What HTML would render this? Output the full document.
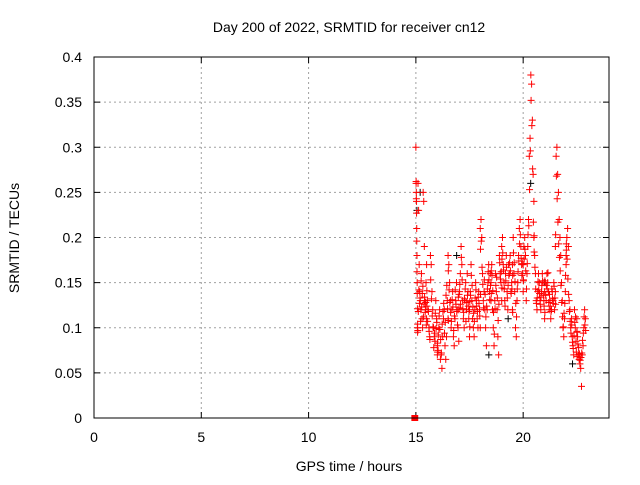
<!DOCTYPE html>
<html><head><meta charset="utf-8"><style>
body{margin:0;background:#fff}
svg text{font-family:"Liberation Sans",sans-serif;font-size:14px;fill:#000}
</style></head><body>
<svg id="chart" width="640" height="480" xmlns="http://www.w3.org/2000/svg">
<rect width="640" height="480" fill="#fff"/>
<text x="349" y="32" text-anchor="middle">Day 200 of 2022, SRMTID for receiver cn12</text>
<text x="349" y="471" text-anchor="middle">GPS time / hours</text>
<text transform="translate(19,238) rotate(-90)" text-anchor="middle">SRMTID / TECUs</text>
<g id="grid"></g><g id="marks"></g>
<rect x="94" y="57" width="515" height="361" fill="none" stroke="#000" stroke-width="1"/>
</svg>
<script>
const xTicks=[0,5,10,15,20];
const yTicks=[0,0.05,0.1,0.15,0.2,0.25,0.3,0.35,0.4];
const yTickLabels=["0","0.05","0.1","0.15","0.2","0.25","0.3","0.35","0.4"];
const segStarts=[15.0,15.1,15.5,16.0,16.5,17.0,17.5,18.0,18.5,19.0,19.5,20.0,20.5,21.0,21.5,22.0,22.5];
const segEnds=[15.08,15.5,16.0,16.5,17.0,17.5,18.0,18.5,19.0,19.5,20.0,20.5,21.0,21.5,22.0,22.5,22.9];
const segVals=[
[0.30,0.26,0.25,0.24,0.21,0.18,0.15,0.10,0.095],
[0.26,0.23,0.17,0.14,0.13,0.12,0.16,0.11,0.10,0.25,0.24,0.19,0.13,0.12,0.15,0.17],
[0.11,0.13,0.12,0.10,0.09,0.18,0.17,0.14,0.12,0.10,0.09,0.085,0.13,0.11,0.08],
[0.07,0.075,0.10,0.12,0.065,0.07,0.055,0.09,0.11,0.12,0.08,0.065,0.09,0.13,0.11],
[0.18,0.17,0.15,0.13,0.10,0.12,0.14,0.09,0.08,0.11,0.13,0.15,0.12,0.10,0.085],
[0.12,0.14,0.16,0.19,0.17,0.13,0.11,0.10,0.13,0.15,0.12,0.16,0.14,0.11,0.09],
[0.12,0.14,0.17,0.13,0.11,0.10,0.09,0.12,0.15,0.13,0.11,0.10,0.14,0.12,0.10],
[0.21,0.22,0.20,0.16,0.13,0.14,0.12,0.10,0.08,0.12,0.15,0.17,0.14,0.16,0.13],
[0.15,0.17,0.12,0.10,0.08,0.13,0.16,0.14,0.12,0.09,0.07,0.18,0.16,0.15,0.13],
[0.19,0.20,0.17,0.15,0.13,0.16,0.18,0.14,0.12,0.17,0.16,0.18,0.14,0.15,0.12],
[0.17,0.20,0.16,0.14,0.10,0.09,0.13,0.15,0.18,0.21,0.22,0.19,0.17,0.16,0.14],
[0.17,0.19,0.20,0.18,0.13,0.16,0.19,0.22,0.29,0.31,0.38,0.37,0.33,0.27,0.24],
[0.20,0.18,0.16,0.13,0.12,0.14,0.16,0.15,0.13,0.12,0.14,0.16,0.15,0.13,0.11],
[0.14,0.15,0.13,0.16,0.15,0.14,0.12,0.13,0.11,0.12,0.14,0.13,0.15,0.12,0.14],
[0.19,0.29,0.30,0.27,0.25,0.22,0.20,0.18,0.15,0.13,0.10,0.09,0.11,0.14,0.17],
[0.18,0.20,0.21,0.19,0.13,0.12,0.10,0.11,0.09,0.08,0.07,0.12,0.10,0.085,0.095],
[0.11,0.09,0.07,0.065,0.06,0.055,0.035,0.07,0.08,0.10,0.12,0.11]];
const segVals2=[
[0.262,0.243,0.227,0.196,0.162,0.138,0.121,0.104,0.097],
[0.118,0.142,0.127,0.133,0.107,0.152,0.123,0.138,0.146,0.112,0.126,0.134,0.117,0.128,0.103,0.141],
[0.124,0.107,0.118,0.096,0.087,0.153,0.132,0.113,0.101,0.078,0.094,0.116,0.099,0.106,0.073],
[0.083,0.092,0.113,0.098,0.087,0.072,0.104,0.118,0.127,0.094,0.106,0.136,0.147,0.121,0.108],
[0.163,0.142,0.128,0.117,0.107,0.131,0.123,0.097,0.113,0.142,0.126,0.118,0.103,0.134,0.122],
[0.137,0.148,0.126,0.178,0.153,0.121,0.117,0.132,0.143,0.107,0.128,0.136,0.124,0.118,0.101],
[0.129,0.136,0.158,0.147,0.123,0.116,0.107,0.133,0.142,0.124,0.118,0.134,0.127,0.113,0.137],
[0.187,0.196,0.167,0.148,0.122,0.153,0.137,0.112,0.124,0.143,0.162,0.153,0.131,0.147,0.138],
[0.163,0.158,0.141,0.117,0.093,0.121,0.147,0.156,0.133,0.108,0.126,0.172,0.154,0.162,0.144],
[0.176,0.183,0.164,0.143,0.124,0.152,0.167,0.133,0.147,0.158,0.172,0.163,0.138,0.143,0.117],
[0.158,0.183,0.172,0.151,0.127,0.112,0.143,0.162,0.174,0.193,0.203,0.177,0.158,0.171,0.153],
[0.152,0.176,0.187,0.163,0.143,0.171,0.203,0.213,0.253,0.296,0.352,0.324,0.276,0.217,0.202],
[0.184,0.167,0.143,0.127,0.133,0.151,0.142,0.138,0.126,0.134,0.147,0.152,0.136,0.124,0.117],
[0.152,0.136,0.147,0.143,0.161,0.128,0.137,0.124,0.118,0.143,0.132,0.127,0.146,0.133,0.126],
[0.203,0.268,0.243,0.217,0.193,0.178,0.163,0.147,0.128,0.112,0.101,0.116,0.127,0.158,0.186],
[0.193,0.176,0.154,0.137,0.118,0.107,0.094,0.103,0.084,0.077,0.091,0.106,0.112,0.073,0.068],
[0.096,0.082,0.078,0.071,0.064,0.067,0.072,0.086,0.094,0.112,0.103,0.097]];
const zeroTimes=[14.93,14.95,14.97];
const zeroVals=[0,0,0];
const blackTimes=[15.05,15.2,16.9,18.4,19.3,20.35,21.0,22.3];
const blackVals=[0.23,0.25,0.18,0.07,0.11,0.26,0.15,0.06];
const X=v=>94+v*(515/24), Y=v=>418-v*(361/0.4);
const NS="http://www.w3.org/2000/svg";
const grid=document.getElementById('grid'), marks=document.getElementById('marks');
function mk(tag,attrs,parent){const e=document.createElementNS(NS,tag);for(const k in attrs)e.setAttribute(k,attrs[k]);parent.appendChild(e);return e;}
xTicks.forEach(t=>{const x=X(t);
 if(t>0){const g=mk('line',{x1:x,x2:x,y1:57,y2:418,stroke:'#a0a0a0','stroke-dasharray':'2,3'},grid);
 
 }
 mk('line',{x1:x,x2:x,y1:418,y2:412,stroke:'#000'},grid);mk('line',{x1:x,x2:x,y1:57,y2:63,stroke:'#000'},grid);
 const l=mk('text',{x:x,y:442,'text-anchor':'middle'},grid);l.textContent=t;
 
 });
yTicks.forEach((t,i)=>{const y=Y(t);
 if(t>0&&t<0.4){const g=mk('line',{x1:94,x2:609,y1:y,y2:y,stroke:'#a0a0a0','stroke-dasharray':'2,3'},grid);
 
 }
 mk('line',{x1:94,x2:100,y1:y,y2:y,stroke:'#000'},grid);mk('line',{x1:609,x2:603,y1:y,y2:y,stroke:'#000'},grid);
 const l=mk('text',{x:82,y:y+5,'text-anchor':'end'},grid);l.textContent=yTickLabels[i];
 
 });
function plus(t,v,c,name){const x=X(t),y=Y(v);
 const p=mk('path',{d:`M${x-3.5},${y}h7M${x},${y-3.5}v7`,stroke:c,'stroke-width':1,fill:'none'},marks);
 
 }
blackTimes.forEach((t,i)=>plus(t,blackVals[i],'#000','black-point'));
function drawSegs(arr,off){arr.forEach((vals,s)=>{const n=vals.length;vals.forEach((v,i)=>{
 const t=segStarts[s]+off+(segEnds[s]-segStarts[s])*(n>1?i/(n-1):0);plus(t,v,'#f00','red-point');});});}
drawSegs(segVals,0);
drawSegs(segVals2,0.012);
zeroTimes.forEach((t,i)=>{const r=mk('rect',{x:X(t)-3,y:Y(zeroVals[i])-3,width:6,height:6,fill:'#f00'},marks);
 
 });
</script>
</body></html>
